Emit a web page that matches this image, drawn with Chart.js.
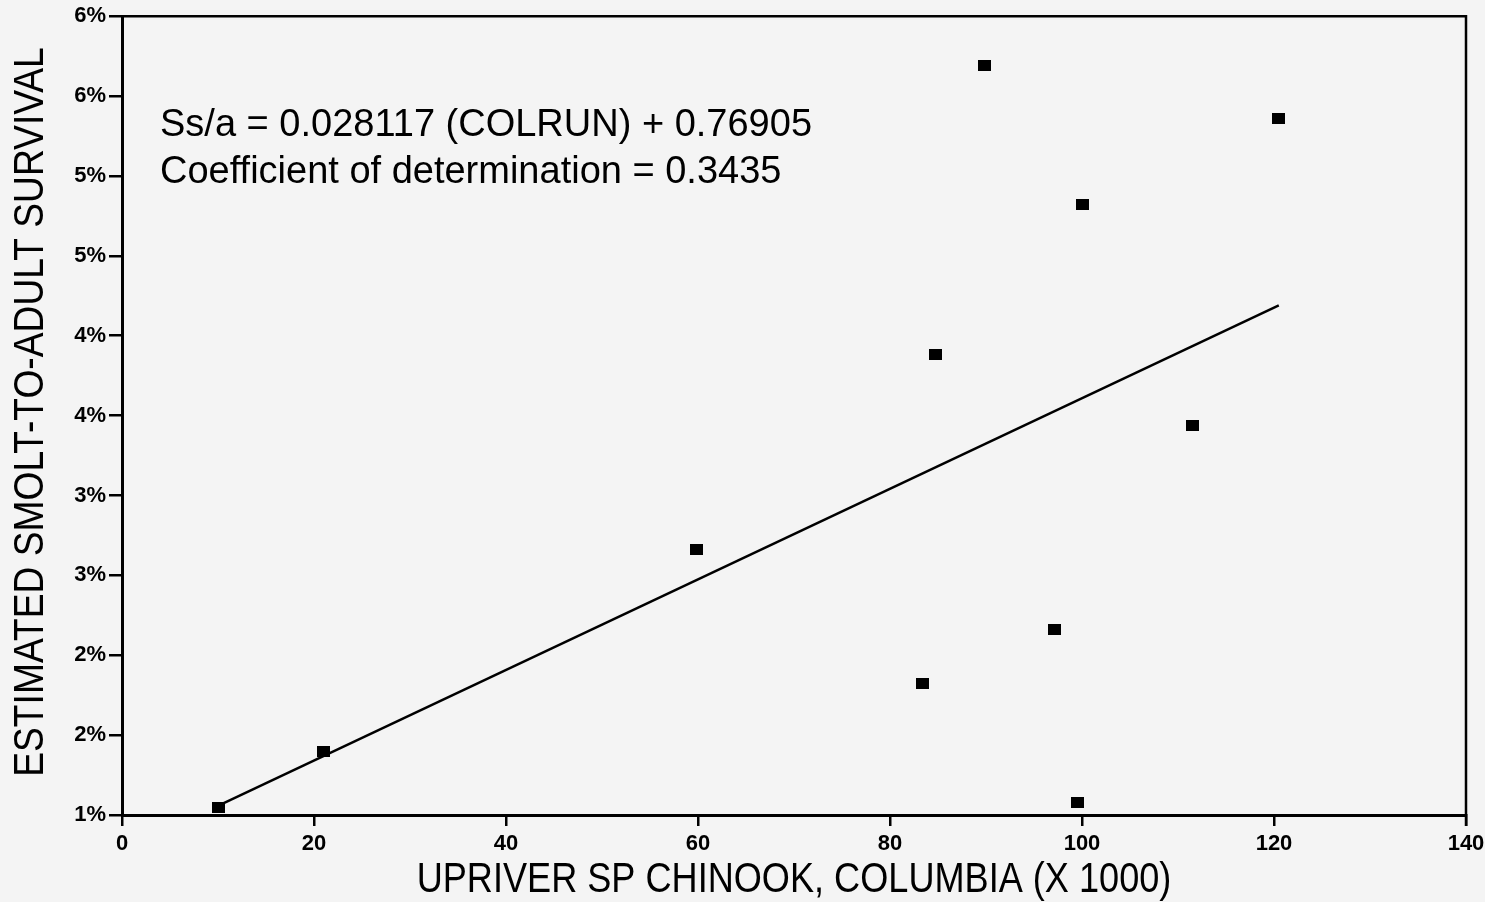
<!DOCTYPE html>
<html>
<head>
<meta charset="utf-8">
<script src="https://cdn.jsdelivr.net/npm/chart.js@4/dist/chart.umd.min.js"></script>
<style>
  html, body { margin: 0; padding: 0; background: #f4f4f4; overflow: hidden; }
  #wrap { width: 1500px; height: 902px; }
</style>
</head>
<body>
<div id="wrap"><canvas id="myChart" width="1500" height="902"></canvas></div>
<script>
// upriver spring chinook run (x 1000) vs estimated smolt-to-adult survival (%)
let runSize = [10.1, 21.0, 59.8, 83.4, 84.7, 89.8, 97.1, 99.5, 100.0, 111.5, 120.5];
let survival = [1.05, 1.40, 2.66, 1.82, 3.88, 5.69, 2.16, 1.08, 4.82, 3.44, 5.36];
// fitted line as drawn at its two ends
let fitX = [10.1, 120.5];
let fitY = [1.06, 4.19];
let xTicks = [0, 20, 40, 60, 80, 100, 120, 140];
let yTicks = [1, 1.5, 2, 2.5, 3, 3.5, 4, 4.5, 5, 5.5, 6];
let noteLines = ['Ss/a = 0.028117 (COLRUN) + 0.76905', 'Coefficient of determination = 0.3435'];
let xTitle = 'UPRIVER SP CHINOOK, COLUMBIA (X 1000)';
let yTitle = 'ESTIMATED SMOLT-TO-ADULT SURVIVAL';

let pts = [];
for (let i = 0; i < runSize.length; i++) {
  pts.push({x: runSize[i], y: survival[i]});
}
let fitPts = [];
for (let i = 0; i < fitX.length; i++) {
  fitPts.push({x: fitX[i], y: fitY[i]});
}

// little filled box used as the marker
let box = document.createElement('canvas');
box.width = 13;
box.height = 11;
let bctx = box.getContext('2d');
bctx.fillStyle = '#000';
bctx.fillRect(0, 0, 13, 11);

let tickFont = {family: '"Liberation Sans", Arial, sans-serif', size: 22, weight: 'bold'};
// the original titles are set in a narrow face, so squeeze them sideways
let squeezeX = 0.84;
let squeezeY = 0.865;

let framePlugin = {
  id: 'frame',
  afterDraw(chart) {
    let ctx = chart.ctx;
    let a = chart.chartArea;
    ctx.save();
    ctx.strokeStyle = '#000';
    ctx.lineWidth = 2.5;
    ctx.beginPath();
    ctx.moveTo(a.left, a.top);
    ctx.lineTo(a.right, a.top);
    ctx.lineTo(a.right, a.bottom + 11);
    ctx.stroke();

    ctx.fillStyle = '#000';
    ctx.font = '38px "Liberation Sans", Arial, sans-serif';
    ctx.textBaseline = 'alphabetic';
    ctx.textAlign = 'left';
    ctx.fillText(noteLines[0], 160, 136);
    ctx.fillText(noteLines[1], 160, 183);

    // axis titles
    ctx.font = '43px "Liberation Sans", Arial, sans-serif';
    ctx.textAlign = 'center';
    ctx.save();
    ctx.translate(794, 892);
    ctx.scale(squeezeX, 1);
    ctx.fillText(xTitle, 0, 0);
    ctx.restore();
    ctx.save();
    ctx.translate(43, 412);
    ctx.rotate(-Math.PI / 2);
    ctx.scale(squeezeY, 1);
    ctx.fillText(yTitle, 0, 0);
    ctx.restore();
    ctx.restore();
  }
};

let ctx = document.getElementById('myChart').getContext('2d');
let myChart = new Chart(ctx, {
  type: 'scatter',
  data: {
    datasets: [{
      label: 'Survival',
      data: pts,
      pointStyle: box,
      pointRadius: 7,
      pointHoverRadius: 7,
      showLine: false
    }, {
      label: 'Fit',
      type: 'line',
      data: fitPts,
      borderColor: '#000',
      borderWidth: 2.5,
      pointRadius: 0,
      fill: false
    }]
  },
  options: {
    responsive: false,
    animation: false,
    events: [],
    layout: {padding: {top: 15, right: 34, bottom: 0, left: 0}},
    plugins: {
      legend: {display: false},
      tooltip: {enabled: false}
    },
    scales: {
      x: {
        type: 'linear',
        min: 0,
        max: 140,
        afterBuildTicks: (s) => { s.ticks = xTicks.map(v => ({value: v})); },
        afterFit: (s) => { s.height = 87; },
        grid: {drawOnChartArea: false, color: '#000', lineWidth: 2.5, tickLength: 11},
        border: {color: '#000', width: 3},
        ticks: {color: '#000', font: tickFont, padding: 5, maxRotation: 0, autoSkip: false}
      },
      y: {
        type: 'linear',
        min: 1,
        max: 6,
        afterBuildTicks: (s) => { s.ticks = yTicks.map(v => ({value: v})); },
        afterFit: (s) => { s.width = 122; },
        grid: {drawOnChartArea: false, color: '#000', lineWidth: 2.5, tickLength: 13},
        border: {color: '#000', width: 3},
        ticks: {
          color: '#000',
          font: tickFont,
          padding: 3,
          autoSkip: false,
          callback: (v) => Math.round(v) + '%'
        }
      }
    }
  },
  plugins: [framePlugin]
});
</script>
</body>
</html>
